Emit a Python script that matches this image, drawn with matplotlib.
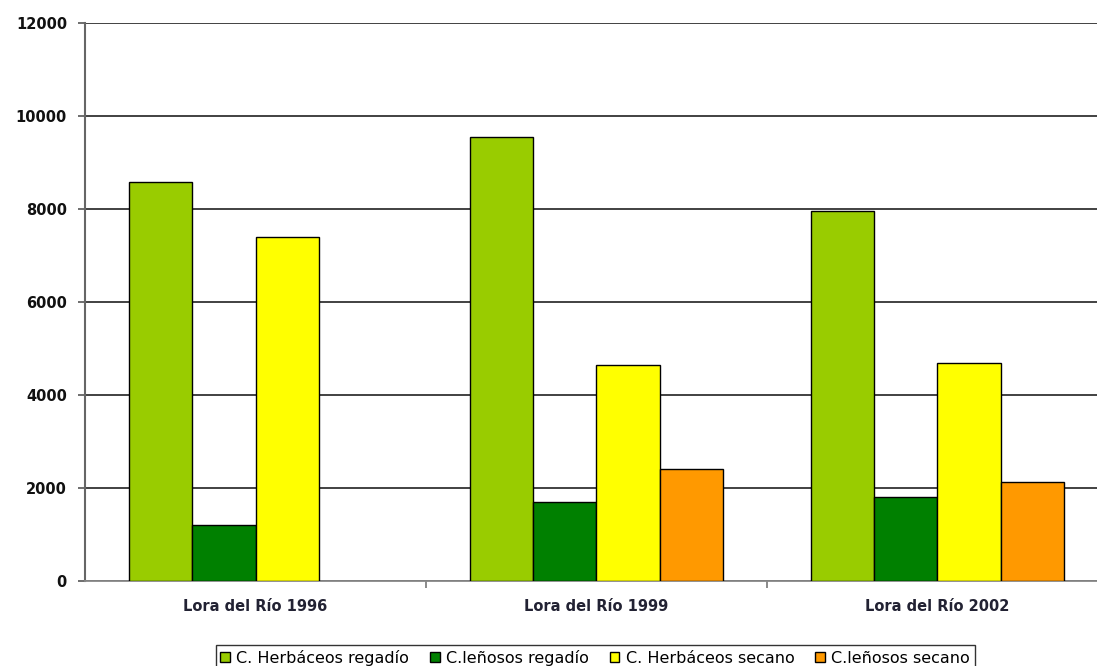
import numpy as np
import matplotlib.pyplot as plt

# Superficie de cultivos por campaña
campaigns = ['Lora del Río 1996', 'Lora del Río 1999', 'Lora del Río 2002']
series = ['C. Herbáceos regadío', 'C.leñosos regadío', 'C. Herbáceos secano', 'C.leñosos secano']
herb_regadio = [8580, 9550, 7960]
len_regadio = [1200, 1700, 1800]
herb_secano = [7400, 4650, 4690]
len_secano = [np.nan, 2400, 2130]   # sin dato en 1996
values = [herb_regadio, len_regadio, herb_secano, len_secano]
colors = ['#99CC00', '#008000', '#FFFF00', '#FF9900']

fig = plt.figure(figsize=(10.97, 6.66), dpi=100)
ax = fig.add_axes([0.0775, 0.1276, 0.9325, 0.8378])

x = np.arange(len(campaigns))
w = 0.185
for i, (vals, col, name) in enumerate(zip(values, colors, series)):
    ax.bar(x + (i - 1.5) * w, vals, w, color=col, edgecolor='black',
           linewidth=1, label=name, zorder=3)

ax.set_xlim(-0.5, 2.5)
ax.set_ylim(0, 12000)
ax.set_yticks(range(0, 12001, 2000))
ax.set_yticklabels([str(v) for v in range(0, 12001, 2000)],
                   fontsize=10.5, fontweight='bold', color='#111111')
ax.grid(axis='y', color='#333333', linewidth=1.3, zorder=0)

# category labels between the boundary ticks
ax.set_xticks([0.5, 1.5], minor=False)
ax.set_xticklabels([])
ax.set_xticks(x, minor=True)
ax.set_xticklabels(campaigns, minor=True, fontsize=10.5, fontweight='bold',
                   color='#222233')
ax.tick_params(axis='x', which='minor', length=0, pad=13)
ax.tick_params(axis='x', which='major', length=5, color='#777777', width=1.2)
ax.tick_params(axis='y', length=5, color='#555555', width=1.2, pad=8)

for s in ['top', 'right']:
    ax.spines[s].set_visible(False)
ax.spines['left'].set_color('#666666')
ax.spines['left'].set_linewidth(1.5)
ax.spines['bottom'].set_color('#888888')
ax.spines['bottom'].set_linewidth(1.3)

leg = fig.legend(loc='upper center', bbox_to_anchor=(0.5425, 0.0315), ncol=4,
                 fontsize=11.5, frameon=True, fancybox=False, edgecolor='black',
                 handlelength=0.6, handleheight=0.6, handletextpad=0.4,
                 columnspacing=1.3, borderpad=0.3, borderaxespad=0)
leg.get_frame().set_linewidth(1.0)

fig.savefig('out.png', dpi=100)
